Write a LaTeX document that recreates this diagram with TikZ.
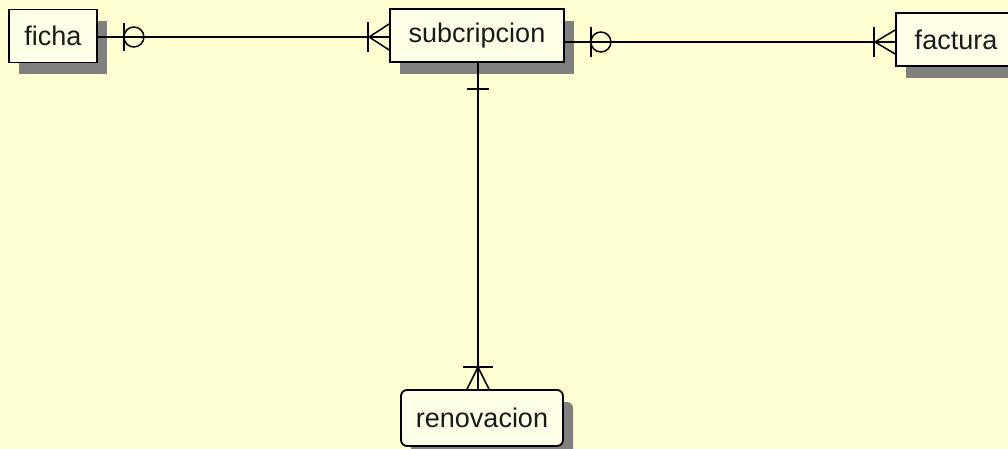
\documentclass[tikz,border=0pt]{standalone}
\usepackage{fontspec}
\setmainfont{Liberation Sans}
\usetikzlibrary{calc,shadows}
\definecolor{bgc}{HTML}{FFFFD2}
\definecolor{boxc}{HTML}{FFFFE8}
\definecolor{shc}{HTML}{808080}
\definecolor{txt}{HTML}{1A1A1A}
\tikzset{
  ent/.style={draw=black, line width=1.8pt, fill=boxc, minimum height=53pt, inner sep=0pt,
    font=\fontsize{27}{30}\selectfont, text=txt,
    general shadow={fill=shc, shadow xshift=10pt, shadow yshift=-12pt}},
  conn/.style={draw=black, line width=1.5pt}
}
\begin{document}
\begin{tikzpicture}[x=1pt,y=-1pt]
\useasboundingbox (0,0) rectangle (1008,449);
\clip (0,0) rectangle (1008,449);
\fill[bgc] (0,0) rectangle (1008,449);
% entities
\node[ent, minimum width=88pt] (ficha) at (53,36) {ficha};
\node[ent, minimum width=174pt] (sub) at (477,35.5) {subcripcion};
\node[ent, minimum width=120pt] (factura) at (956,39.5) {factura};
\node[ent, rounded corners=6pt, minimum width=162pt, minimum height=56pt] (renov) at (482,418) {renovacion};
% ficha -- subcripcion
\coordinate (fe) at ($(ficha.east)+(0,1)$);
\coordinate (sw) at (sub.west |- fe);
\draw[conn] (fe) -- (sw);
\draw[conn] ($(fe)+(26,-14)$) -- ++(0,28);
\draw[conn] ($(fe)+(36,0)$) circle (10pt);
\draw[conn] ($(sw)+(-20,0)$) -- ($(sw)+(0,-13)$);
\draw[conn] ($(sw)+(-20,0)$) -- ($(sw)+(0,13)$);
\draw[conn] ($(sw)+(-21,-15)$) -- ++(0,30);
% subcripcion -- factura
\coordinate (fw) at ($(factura.west)+(0,2.5)$);
\coordinate (se) at (sub.east |- fw);
\draw[conn] (se) -- (fw);
\draw[conn] ($(se)+(26,-15)$) -- ++(0,30);
\draw[conn] ($(se)+(36,0)$) circle (10pt);
\draw[conn] ($(fw)+(-20,0)$) -- ($(fw)+(0,-12)$);
\draw[conn] ($(fw)+(-20,0)$) -- ($(fw)+(0,12)$);
\draw[conn] ($(fw)+(-21,-15)$) -- ++(0,30);
% subcripcion -- renovacion
\coordinate (ss) at ($(sub.south)+(1,0)$);
\coordinate (rn) at (ss |- renov.north);
\draw[conn] (ss) -- (rn);
\draw[conn] ($(ss)+(-11,26)$) -- ++(22,0);
\draw[conn] ($(rn)+(0,-22)$) -- ($(rn)+(-11,0)$);
\draw[conn] ($(rn)+(0,-22)$) -- ($(rn)+(11,0)$);
\draw[conn] ($(rn)+(-15,-22)$) -- ++(30,0);
\end{tikzpicture}
\end{document}
